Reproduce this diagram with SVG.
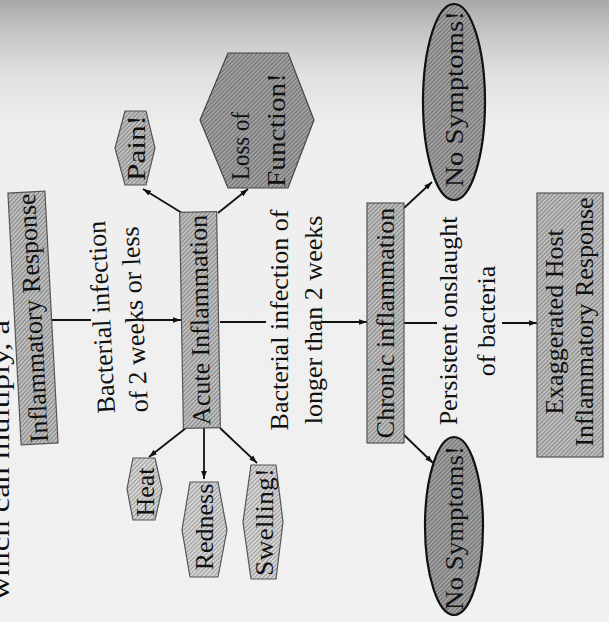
<svg xmlns="http://www.w3.org/2000/svg" width="609" height="622" viewBox="0 0 609 622">
<defs>
<linearGradient id="bg" x1="0" y1="0" x2="0" y2="1">
<stop offset="0" stop-color="#a8a8a8"/>
<stop offset="0.05" stop-color="#c4c4c4"/>
<stop offset="0.12" stop-color="#e0e0e0"/>
<stop offset="0.2" stop-color="#eeeeee"/>
<stop offset="1" stop-color="#f1f1f1"/>
</linearGradient>
<pattern id="hatch" width="3" height="3" patternUnits="userSpaceOnUse" patternTransform="rotate(45)">
<rect width="3" height="3" fill="#c2c2c2"/>
<rect width="1.1" height="3" fill="#858585"/>
</pattern>
<pattern id="hatchD" width="3" height="3" patternUnits="userSpaceOnUse" patternTransform="rotate(45)">
<rect width="3" height="3" fill="#a8a8a8"/>
<rect width="1.3" height="3" fill="#707070"/>
</pattern>
<pattern id="hatchL" width="3" height="3" patternUnits="userSpaceOnUse" patternTransform="rotate(45)">
<rect width="3" height="3" fill="#d6d6d6"/>
<rect width="1" height="3" fill="#9a9a9a"/>
</pattern>
<marker id="ah" viewBox="0 0 10 10" refX="10" refY="5" markerWidth="8" markerHeight="8" orient="auto" markerUnits="userSpaceOnUse">
<path d="M0,1.5 L10,5 L0,8.5 z" fill="#111"/>
</marker>
<style>
text{font-family:"Liberation Serif","Times New Roman",serif;font-size:26px;fill:#111}
.box{fill:url(#hatch);stroke:#555;stroke-width:1.2}
.hexD{fill:url(#hatchD);stroke:#444;stroke-width:1.2}
.hexL{fill:url(#hatchL);stroke:#555;stroke-width:1.2}
.ell{fill:url(#hatchD);stroke:#111;stroke-width:2.2}
.c{text-anchor:middle;dominant-baseline:central}
.m{text-anchor:middle}
.conn line{stroke:#111;stroke-width:1.8}
.arr{marker-end:url(#ah)}
</style>
</defs>
<rect x="0" y="0" width="609" height="622" fill="url(#bg)"/>
<text transform="translate(9,600) rotate(-90)" textLength="280" lengthAdjust="spacingAndGlyphs" fill="#333">which can multiply, a</text>

<g id="connectors" class="conn">
<line x1="52" y1="320" x2="91" y2="320"/>
<line class="arr" x1="139" y1="320" x2="181" y2="320"/>
<line x1="220" y1="322" x2="266" y2="322"/>
<line class="arr" x1="322" y1="322" x2="367" y2="322"/>
<line x1="404" y1="323" x2="437" y2="323"/>
<line class="arr" x1="502" y1="323" x2="537" y2="323"/>
<line class="arr" x1="182" y1="213" x2="143" y2="189"/>
<line class="arr" x1="218" y1="213" x2="248" y2="189"/>
<line class="arr" x1="186" y1="428" x2="149" y2="457"/>
<line class="arr" x1="204" y1="428" x2="204" y2="479"/>
<line class="arr" x1="220" y1="428" x2="257" y2="463"/>
<line class="arr" x1="404" y1="208" x2="432" y2="182"/>
<line class="arr" x1="402" y1="433" x2="433" y2="463"/>
</g>

<g id="inflammatory-response" transform="rotate(-3 33 318)">
<rect class="box" x="14.5" y="192" width="37" height="252"/>
<text class="c" transform="translate(33,318) rotate(-90)">Inflammatory Response</text>
</g>

<g id="label-2weeks-or-less" transform="rotate(-3 125 316)">
<text class="m" transform="translate(110,316) rotate(-90)">Bacterial infection</text>
<text class="m" transform="translate(143,320) rotate(-90)">of 2 weeks or less</text>
</g>

<g id="acute-inflammation" transform="rotate(-1 200 320)">
<rect class="box" x="181.5" y="212" width="37" height="216"/>
<text class="c" transform="translate(200,320) rotate(-90)">Acute Inflammation</text>
</g>

<g id="pain">
<polygon class="box" points="125,111 146,111 155,148 146,185 125,185 115,148"/>
<text class="c" transform="translate(136,148) rotate(-90)" textLength="66" lengthAdjust="spacingAndGlyphs">Pain!</text>
</g>

<g id="loss-of-function">
<polygon class="hexD" points="228,53 288,53 314,120 288,188 228,188 200,120"/>
<text transform="translate(249,180) rotate(-90)" textLength="68" lengthAdjust="spacingAndGlyphs">Loss of</text>
<text transform="translate(285,187) rotate(-90)" textLength="114" lengthAdjust="spacingAndGlyphs">Function!</text>
</g>

<g id="heat">
<polygon class="hexL" points="133,458 155,458 162,489 155,520 133,520 127,489"/>
<text class="c" transform="translate(145,492) rotate(-90)">Heat</text>
</g>

<g id="redness">
<polygon class="hexL" points="190,482 218,482 227,530 218,577 190,577 182,530"/>
<text class="c" transform="translate(204,527) rotate(-90)">Redness</text>
</g>

<g id="swelling">
<polygon class="hexL" points="251,465 276,465 283,522 276,579 251,579 243,522"/>
<text class="c" transform="translate(264,522) rotate(-90)" textLength="108" lengthAdjust="spacingAndGlyphs">Swelling!</text>
</g>

<g id="label-longer-than-2-weeks">
<text class="m" transform="translate(288,320) rotate(-90)">Bacterial infection of</text>
<text class="m" transform="translate(322,320) rotate(-90)">longer than 2 weeks</text>
</g>

<g id="chronic-inflammation">
<rect class="box" x="367" y="203" width="37" height="240"/>
<text class="c" transform="translate(385.5,323) rotate(-90)">Chronic inflammation</text>
</g>

<g id="no-symptoms-top">
<ellipse class="ell" cx="454" cy="102" rx="31" ry="98"/>
<text class="c" transform="translate(454,99) rotate(-90)" textLength="176" lengthAdjust="spacingAndGlyphs">No Symptoms!</text>
</g>

<g id="no-symptoms-bottom">
<ellipse class="ell" cx="454" cy="526" rx="29" ry="89"/>
<text class="c" transform="translate(454,528) rotate(-90)" textLength="164" lengthAdjust="spacingAndGlyphs">No Symptoms!</text>
</g>

<g id="label-persistent">
<text class="m" transform="translate(457,321) rotate(-90)">Persistent onslaught</text>
<text class="m" transform="translate(495,321) rotate(-90)">of bacteria</text>
</g>

<g id="exaggerated-response">
<rect class="box" x="537" y="193" width="66" height="264"/>
<text class="m" transform="translate(563,322) rotate(-90)">Exaggerated Host</text>
<text class="m" transform="translate(593,322) rotate(-90)">Inflammatory Response</text>
</g>
</svg>
